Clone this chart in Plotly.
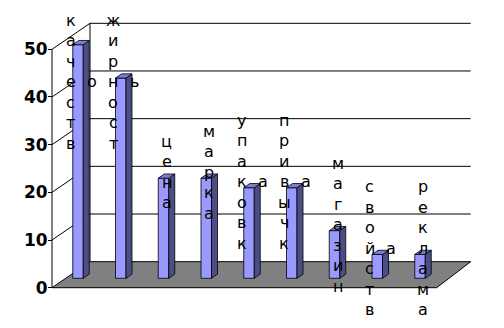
import plotly.graph_objects as go

# ---- data ----
categories = ["качество", "жирность", "цена", "марка", "упаковка",
              "привычка", "магазин", "свойства", "реклама"]
values = [49, 42, 21, 21, 19, 19, 10, 5, 5]
tick_values = [0, 10, 20, 30, 40, 50]
tick_labels = ["0", "10", "20", "30", "40", "50"]

# ---- geometry (in axis units) ----
PX_CAT = 42.75          # pixels per category step
PX_UNIT = 4.768         # pixels per value unit
X_ORIGIN_PX = 64.5
Y_ORIGIN_PX = 287.7
W, H = 504, 328

X0 = (52 - X_ORIGIN_PX) / PX_CAT        # front-left floor corner
X1 = (436.7 - X_ORIGIN_PX) / PX_CAT     # front-right floor corner
DXL = 38 / PX_CAT                       # depth shift left side
DXR = 34 / PX_CAT                       # depth shift right side
DY = 26 / PX_UNIT                       # depth shift (value units)

BAR_SHIFT_X = 0.316     # bar depth position shift
BAR_BASE = 1.97
BAR_W = 10.5 / PX_CAT
SIDE_DX = 6 / PX_CAT
SIDE_DY = 4.2 / PX_UNIT

FRONT = "#9999FF"
SIDE = "#4D4D85"
TOP = "#7C7CD6"
FLOOR = "#808080"

shapes = []
# floor
fp = (f"M {X0},0 L {X1},0 L {X1+DXR},{DY} L {X0+DXL},{DY} Z")
shapes.append(dict(type="path", path=fp, xref="x", yref="y", layer="below",
                   fillcolor=FLOOR, line=dict(color="black", width=1)))
# left wall lines and back wall gridlines
bx = X0 + DXL
shapes.append(dict(type="line", xref="x", yref="y", x0=X0, y0=0, x1=X0, y1=50,
                   layer="below", line=dict(color="black", width=1)))
shapes.append(dict(type="line", xref="x", yref="y", x0=bx, y0=DY, x1=bx, y1=50 + DY,
                   layer="below", line=dict(color="black", width=1)))
for v in tick_values[1:]:
    shapes.append(dict(type="line", xref="x", yref="y", x0=X0, y0=v, x1=bx, y1=v + DY,
                       layer="below", line=dict(color="black", width=1)))
    shapes.append(dict(type="line", xref="x", yref="y", x0=bx, y0=v + DY,
                       x1=X1 + DXR, y1=v + DY,
                       layer="below", line=dict(color="black", width=1)))

fig = go.Figure()

xs = [i + BAR_SHIFT_X for i in range(len(values))]
fig.add_trace(go.Bar(x=xs, y=values, base=BAR_BASE, width=BAR_W,
                     marker=dict(color=FRONT, line=dict(color="black", width=0.8)),
                     hoverinfo="skip", showlegend=False))

# side faces and top faces
sx, sy, tx, ty = [], [], [], []
for x, v in zip(xs, values):
    xl, xr = x - BAR_W / 2, x + BAR_W / 2
    b, t = BAR_BASE, BAR_BASE + v
    sx += [xr, xr + SIDE_DX, xr + SIDE_DX, xr, xr, None]
    sy += [b, b + SIDE_DY, t + SIDE_DY, t, b, None]
    tx += [xl, xr, xr + SIDE_DX, xl + SIDE_DX, xl, None]
    ty += [t, t, t + SIDE_DY, t + SIDE_DY, t, None]
fig.add_trace(go.Scatter(x=sx, y=sy, mode="lines", fill="toself", fillcolor=SIDE,
                         line=dict(color="black", width=0.8), hoverinfo="skip",
                         showlegend=False))
fig.add_trace(go.Scatter(x=tx, y=ty, mode="lines", fill="toself", fillcolor=TOP,
                         line=dict(color="black", width=0.8), hoverinfo="skip",
                         showlegend=False))

# vertical letter-by-letter labels
ROW = 20.5 / PX_UNIT
TOP_LIMIT = (Y_ORIGIN_PX - 20) / PX_UNIT
LIFT = 1.26
annotations = []
for i, (word, v) in enumerate(zip(categories, values)):
    xc = i + BAR_SHIFT_X + SIDE_DX / 2
    if len(word) > 7:
        col = list(word[:7])
        side = word[7]
        xm, xs_ = xc - 0.245, xc + 0.26
    else:
        col = list(word)
        side = None
        xm = xc
    n = len(col)
    center = BAR_BASE + v + LIFT
    top = center + (n - 1) / 2 * ROW
    if top > TOP_LIMIT:
        top = TOP_LIMIT
    for k, ch in enumerate(col):
        annotations.append(dict(x=xm, y=top - k * ROW, xref="x", yref="y", text=ch,
                                showarrow=False, xanchor="center", yanchor="middle",
                                font=dict(family="DejaVu Sans", size=16, color="black")))
    if side:
        annotations.append(dict(x=xs_, y=top - 3 * ROW, xref="x", yref="y", text=side,
                                showarrow=False, xanchor="center", yanchor="middle",
                                font=dict(family="DejaVu Sans", size=16, color="black")))

fig.update_layout(
    width=W, height=H,
    margin=dict(l=0, r=0, t=0, b=0),
    paper_bgcolor="white", plot_bgcolor="white",
    shapes=shapes, annotations=annotations,
    showlegend=False,
    xaxis=dict(range=[-X_ORIGIN_PX / PX_CAT, (W - X_ORIGIN_PX) / PX_CAT],
               visible=False, fixedrange=True),
    yaxis=dict(range=[-(H - Y_ORIGIN_PX) / PX_UNIT, Y_ORIGIN_PX / PX_UNIT],
               anchor="free", position=52 / W, showgrid=False, zeroline=False,
               showline=False, ticks="outside", ticklen=4, tickcolor="black",
               tickwidth=1, tickvals=tick_values, ticktext=tick_labels,
               ticklabelstandoff=-3,
               tickfont=dict(family="DejaVu Sans", size=17, color="black",
                             weight="bold"),
               fixedrange=True),
)

fig.write_html("out.html")
